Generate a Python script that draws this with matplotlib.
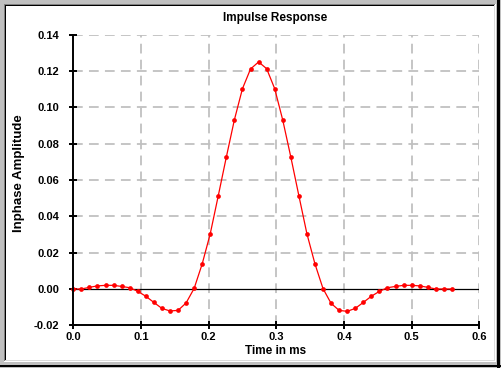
import numpy as np
import matplotlib
matplotlib.use("Agg")
import matplotlib.pyplot as plt
from matplotlib.patches import Rectangle

# ---- data ----
sample_period_ms = 1.0 / 84.0
amplitude = [0.0000, 0.0000, 0.0009, 0.0017, 0.0020, 0.0020, 0.0014, 0.0007,
             -0.0013, -0.0040, -0.0074, -0.0107, -0.0121, -0.0118, -0.0077, 0.0003,
             0.0138, 0.0304, 0.0514, 0.0727, 0.0932, 0.1103, 0.1211, 0.1250,
             0.1213, 0.1103, 0.0930, 0.0727, 0.0514, 0.0304, 0.0138, 0.0002,
             -0.0079, -0.0118, -0.0123, -0.0107, -0.0074, -0.0040, -0.0013, 0.0007,
             0.0014, 0.0020, 0.0020, 0.0017, 0.0009, 0.0000, 0.0000, 0.0000]
time_ms = np.arange(len(amplitude)) * sample_period_ms
x_ticks = [0.0, 0.1, 0.2, 0.3, 0.4, 0.5, 0.6]
y_ticks = [-0.02, 0.00, 0.02, 0.04, 0.06, 0.08, 0.10, 0.12, 0.14]
title = "Impulse Response"
xlabel = "Time in ms"
ylabel = "Inphase Amplitude"

plt.rcParams['font.family'] = ['Liberation Sans', 'DejaVu Sans']
plt.rcParams['lines.scale_dashes'] = False

W, H = 501, 368
fig = plt.figure(figsize=(W / 100, H / 100), dpi=100, facecolor='#c0c0c0')


def prect(x0, y0, x1, y1, color):
    fig.add_artist(Rectangle((x0 / W, 1 - y1 / H), (x1 - x0) / W, (y1 - y0) / H,
                             transform=fig.transFigure, facecolor=color,
                             edgecolor='none', zorder=-10))

# sunken window frame
prect(4, 4, 496, 362, '#ffffff')
prect(4, 4, 495, 361, '#808080')
prect(5, 5, 495, 361, '#dcdcdc')
prect(5, 5, 494, 360, '#000000')
prect(6, 6, 494, 360, '#ffffff')
prect(497, 0, 500, 368, '#000000')
prect(0, 365, 501, 367, '#000000')

ax_l, ax_r, ax_t, ax_b = 73.3, 479.3, 34.7, 325.3
ax = fig.add_axes([ax_l / W, 1 - ax_b / H, (ax_r - ax_l) / W, (ax_b - ax_t) / H])
ax.set_facecolor('none')

ax.set_xlim(0, 0.6)
ax.set_ylim(-0.02, 0.14)
ax.set_xticks(x_ticks)
ax.set_yticks(y_ticks)
ax.set_xticklabels([f"{v:.1f}" for v in x_ticks])
ax.set_yticklabels([f"{v:.2f}" for v in y_ticks])

for s in ['top', 'right']:
    ax.spines[s].set_visible(False)
for s in ['left', 'bottom']:
    ax.spines[s].set_linewidth(1.4)
    ax.spines[s].set_color('black')
    ax.spines[s].set_zorder(5)

ax.tick_params(axis='both', direction='inout', length=6, width=1.4, colors='black',
               labelsize=8)
ax.tick_params(axis='y', pad=7)
ax.tick_params(axis='x', pad=1.5)
for lab in ax.get_xticklabels() + ax.get_yticklabels():
    lab.set_fontweight('bold')

grid_kw = dict(color='#c0c0c0', linewidth=1.3, dashes=(7, 4.5), zorder=1)
for xv in x_ticks[1:]:
    ax.axvline(xv, **grid_kw)
for yv in y_ticks[1:]:
    if yv != 0:
        ax.axhline(yv, **grid_kw)
ax.axhline(0, color='black', linewidth=0.9, zorder=2)

ax.plot(time_ms, amplitude, color='#ff0000', linewidth=0.9, marker='o',
        markersize=3.4, markeredgewidth=0, zorder=4, clip_on=False)

fig.text(275.5 / W, 1 - 21 / H, title, ha='center', va='baseline',
         fontsize=8.5, fontweight='bold')
fig.text(275.5 / W, 1 - 354.3 / H, xlabel, ha='center', va='baseline',
         fontsize=8.5, fontweight='bold')
fig.text(19 / W, 1 - 173 / H, ylabel, ha='center', va='center', rotation=90,
         fontsize=9.5, fontweight='bold')

fig.savefig('out.png', dpi=100, facecolor=fig.get_facecolor())
